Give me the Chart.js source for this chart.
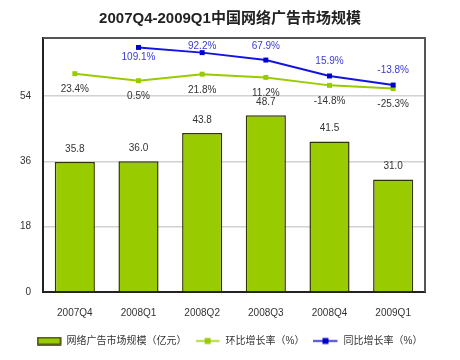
<!DOCTYPE html>
<html>
<head>
<meta charset="utf-8">
<script src="https://cdn.jsdelivr.net/npm/chart.js@4/dist/chart.umd.min.js"></script>
<style>
html,body{margin:0;padding:0;background:#fff;}
#wrap{width:460px;height:360px;}
</style>
</head>
<body>
<div id="wrap"><canvas id="c" width="460" height="360"></canvas></div>
<script>
const categories = ['2007Q4','2008Q1','2008Q2','2008Q3','2008Q4','2009Q1'];
const marketSize = [35.8, 36.0, 43.8, 48.7, 41.5, 31.0];
const qoqGrowth = [23.4, 0.5, 21.8, 11.2, -14.8, -25.3];
const yoyGrowth = [null, 109.1, 92.2, 67.9, 15.9, -13.8];
const yTicks = [0, 18, 36, 54];
const seriesNames = ['网络广告市场规模（亿元）', '环比增长率（%）', '同比增长率（%）'];
const titleText = '2007Q4-2009Q1中国网络广告市场规模';

const FONT = '"Liberation Sans","Noto Sans CJK SC",sans-serif';
const GREEN = '#99cc00';
const BLUE = '#1414e0';

function makeIcon(kind, color) {
  const c = document.createElement('canvas');
  c.width = 26; c.height = 9;
  const g = c.getContext('2d');
  if (kind === 'bar') {
    g.fillStyle = color;
    g.fillRect(1, 1, 23, 7);
    g.strokeStyle = '#333300';
    g.lineWidth = 1.5;
    g.strokeRect(1, 1, 23, 7);
  } else {
    g.strokeStyle = color;
    g.lineWidth = 1.5;
    g.beginPath(); g.moveTo(0, 4.5); g.lineTo(24, 4.5); g.stroke();
    g.fillStyle = color;
    g.fillRect(9, 1.5, 6, 6);
  }
  return c;
}
const icons = [makeIcon('bar', GREEN), makeIcon('line', GREEN), makeIcon('line', '#0000cc')];

const framePlugin = {
  id: 'frame',
  beforeDatasetsDraw(chart) {
    const a = chart.chartArea, ctx = chart.ctx;
    ctx.save();
    ctx.strokeStyle = '#555';
    ctx.lineWidth = 2;
    ctx.beginPath();
    ctx.moveTo(a.left, a.top);
    ctx.lineTo(a.right, a.top);
    ctx.lineTo(a.right, a.bottom);
    ctx.stroke();
    ctx.restore();
  }
};

const labelPlugin = {
  id: 'valueLabels',
  afterDatasetsDraw(chart) {
    const ctx = chart.ctx, top = chart.chartArea.top;
    ctx.save();
    ctx.font = '10px ' + FONT;
    ctx.textAlign = 'center';
    ctx.textBaseline = 'middle';
    chart.data.datasets.forEach((ds, di) => {
      const meta = chart.getDatasetMeta(di);
      meta.data.forEach((el, i) => {
        const v = ds.data[i];
        if (v === null || v === undefined) return;
        let y, txt, col;
        if (ds.type === 'bar') {
          txt = v.toFixed(1); y = el.y - 13; col = '#333';
        } else if (di === 1) {
          txt = v.toFixed(1) + '%'; y = el.y + 16; col = '#333';
        } else {
          txt = v.toFixed(1) + '%';
          col = '#3a3ad6';
          if (i === 1) y = el.y + 10;
          else y = Math.max(el.y - 15, top + 8);
        }
        ctx.fillStyle = col;
        ctx.fillText(txt, el.x, y);
      });
    });
    ctx.restore();
  }
};

new Chart(document.getElementById('c'), {
  data: {
    labels: categories,
    datasets: [
      {
        type: 'bar', label: seriesNames[0], data: marketSize, yAxisID: 'y',
        backgroundColor: GREEN, borderColor: '#333300', borderWidth: 1.5,
        categoryPercentage: 1, barPercentage: 0.63, order: 3
      },
      {
        type: 'line', label: seriesNames[1], data: qoqGrowth, yAxisID: 'y1',
        borderColor: GREEN, backgroundColor: GREEN, borderWidth: 2,
        pointStyle: 'rect', pointRadius: 3.5, pointBorderWidth: 0, tension: 0, order: 2
      },
      {
        type: 'line', label: seriesNames[2], data: yoyGrowth, yAxisID: 'y1',
        borderColor: BLUE, backgroundColor: '#0000cc', borderWidth: 2,
        pointStyle: 'rect', pointRadius: 3.5, pointBorderWidth: 0, tension: 0, order: 1
      }
    ]
  },
  options: {
    responsive: false,
    animation: false,
    devicePixelRatio: 1,
    layout: { padding: { left: 0, right: 0, top: 0, bottom: 4 } },
    plugins: {
      title: {
        display: true, text: titleText, color: '#222',
        font: { family: FONT, size: 15, weight: 'bold' },
        padding: { top: 10, bottom: 10 }
      },
      legend: {
        position: 'bottom',
        labels: {
          usePointStyle: true, pointStyleWidth: 24, boxHeight: 10,
          padding: 10, color: '#333',
          font: { family: FONT, size: 10 },
          generateLabels: (chart) => chart.data.datasets.map((ds, i) => ({
            text: ds.label, pointStyle: icons[i], datasetIndex: i,
            fontColor: '#333', hidden: false, lineWidth: 0,
            strokeStyle: 'transparent', fillStyle: 'transparent'
          }))
        }
      },
      tooltip: { enabled: false }
    },
    scales: {
      x: {
        grid: { display: false, drawTicks: false },
        border: { color: '#222', width: 2 },
        ticks: { color: '#333', font: { family: FONT, size: 10 }, padding: 15 },
        afterFit: (s) => { s.height = 34; }
      },
      y: {
        position: 'left', min: 0, max: 70,
        grid: { color: (c) => c.tick && c.tick.value === 0 ? 'transparent' : '#d2d2d2', lineWidth: 1.5, drawTicks: false },
        border: { color: '#222', width: 2 },
        ticks: { color: '#333', font: { family: FONT, size: 10 }, padding: 12, stepSize: 18 },
        afterBuildTicks: (s) => { s.ticks = yTicks.map(v => ({ value: v })); },
        afterFit: (s) => { s.width = 43; }
      },
      y1: {
        position: 'right', min: -690, max: 140, display: true,
        grid: { display: false, drawTicks: false },
        border: { display: false },
        ticks: { display: false },
        afterFit: (s) => { s.width = 35; }
      }
    }
  },
  plugins: [framePlugin, labelPlugin]
});
</script>
</body>
</html>
